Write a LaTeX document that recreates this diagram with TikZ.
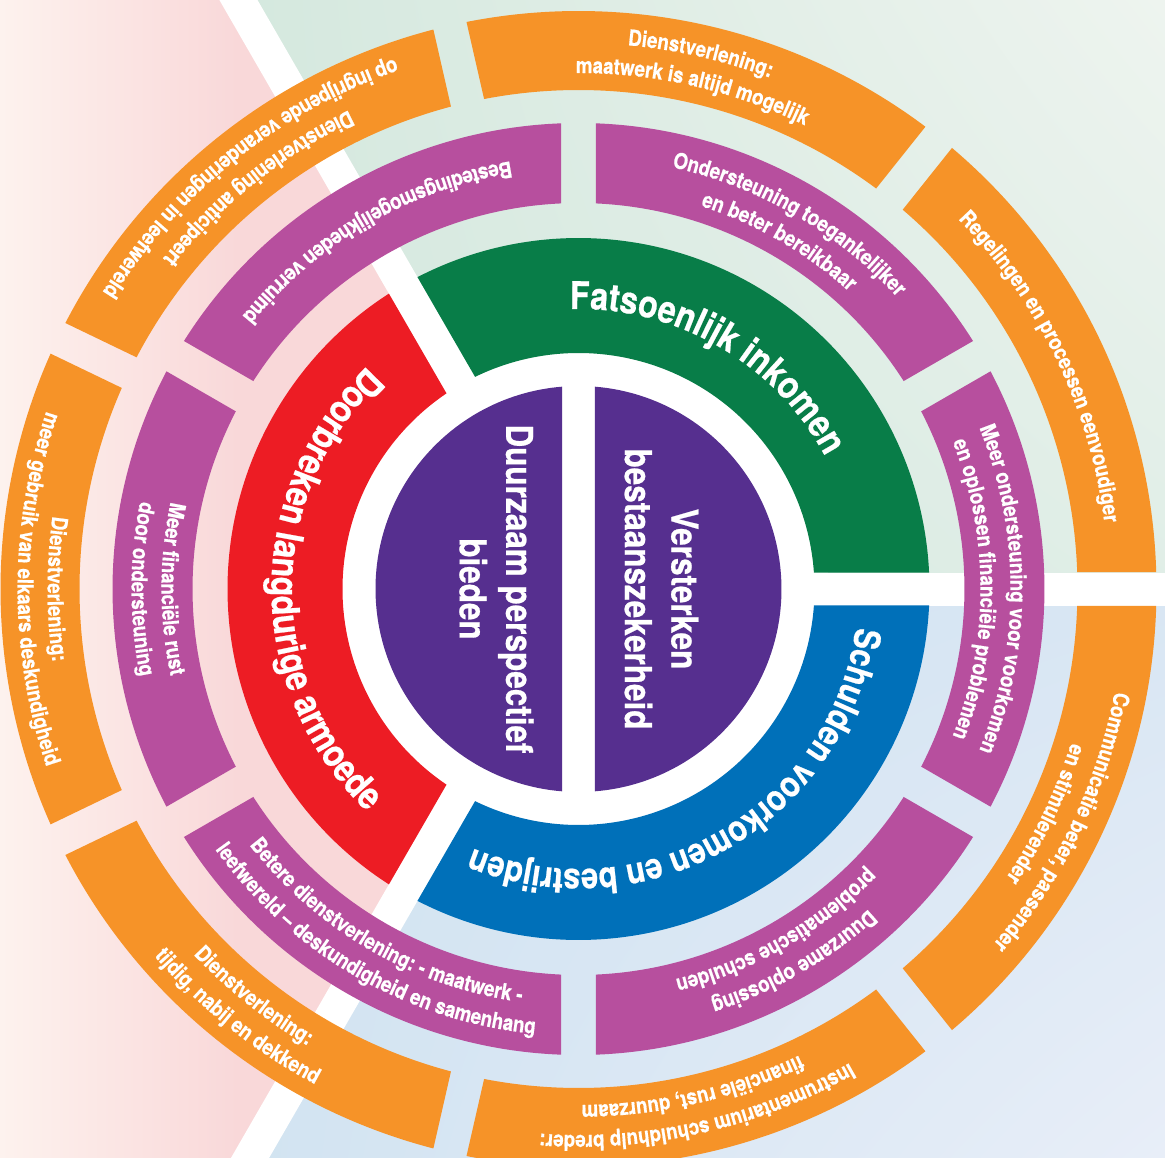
\documentclass[tikz,border=0pt]{standalone}
\usepackage{fontspec}
\setmainfont{TeX Gyre Heros}[FakeStretch=0.85, BoldFeatures={FakeBold=0.6}]
\usepackage{tikz}
\usetikzlibrary{decorations.text,shadings}

\definecolor{ringorange}{RGB}{246,147,40}
\definecolor{ringmagenta}{RGB}{183,79,158}
\definecolor{ringgreen}{RGB}{8,125,72}
\definecolor{ringblue}{RGB}{0,112,185}
\definecolor{ringred}{RGB}{237,28,36}
\definecolor{ringpurple}{RGB}{86,47,143}
\definecolor{bgpink}{RGB}{249,216,217}
\definecolor{bgpinkfade}{RGB}{253,242,238}
\definecolor{bggreen}{RGB}{212,232,222}
\definecolor{bggreenmid}{RGB}{224,238,231}
\definecolor{bggreenfade}{RGB}{238,244,239}
\definecolor{bgblue}{RGB}{209,227,241}
\definecolor{bgbluemid}{RGB}{216,230,243}
\definecolor{bgbluefade}{RGB}{232,238,248}

\newcommand\ringseg[6]{%
  \pgfmathsetmacro\segdo{asin(#6/#3)}%
  \pgfmathsetmacro\segdi{asin(#6/#2)}%
  \fill[#1] ({#4+\segdo}:#3) arc[start angle={#4+\segdo}, end angle={#5-\segdo}, radius=#3]
    -- ({#5-\segdi}:#2) arc[start angle={#5-\segdi}, end angle={#4+\segdi}, radius=#2] -- cycle;}

\newcommand\arclabel[5]{%
  \path[decorate, decoration={text along path, text align=center,
    text={|\fontsize{#1}{#1}\selectfont\bfseries\color{white}|#5}}]
    (#3:#2) arc[start angle=#3, end angle=#4, radius=#2];}

\begin{document}
\begin{tikzpicture}[x=1pt,y=1pt,
  corelabel/.style={rotate=-90, align=center, inner sep=0pt, text=white,
    font=\fontsize{37}{46.5}\selectfont\bfseries}]
\useasboundingbox (-578.5,-568) rectangle (586.5,589);
\clip (-578.5,-568) rectangle (586.5,589);

\fill[bgpink] (0,0) -- (120:1200) -- (240:1200) -- cycle;
\shade[left color=bgpinkfade, right color=bgpink] (-578.5,-568) rectangle (-340,589);
\begin{scope}
\clip (0,0) -- (0:1200) -- (60:1400) -- (120:1200) -- cycle;
\shade[upper left=bggreen, lower left=bggreen, lower right=bggreenmid, upper right=bggreenfade]
  (-360,0) rectangle (586.5,589);
\end{scope}
\begin{scope}
\clip (0,0) -- (0:1200) -- (-60:1400) -- (-120:1200) -- cycle;
\shade[upper left=bgblue, lower left=bgblue, upper right=bgbluemid, lower right=bgbluefade]
  (-360,-568) rectangle (586.5,0);
\end{scope}

\foreach \a in {0,120,240}
  \draw[white, line width=33pt] (0,0) -- (\a:1000);
\fill[white] (0,0) circle (250);

\ringseg{ringgreen}{236}{351}{0}{120}{16.5}
\ringseg{ringred}{236}{351}{120}{240}{16.5}
\ringseg{ringblue}{236}{351}{240}{360}{16.5}
\foreach \a in {30,90,...,330}
  {\ringseg{ringmagenta}{386}{466}{\a}{\a+60}{17.5}}
\foreach \i in {0,...,6}
  {\ringseg{ringorange}{499}{578}{\i*360/7}{(\i+1)*360/7}{17}}

\fill[ringpurple] (94.66:203) arc[start angle=94.66, end angle=265.34, radius=203] -- cycle;
\fill[ringpurple] (-85.34:203) arc[start angle=-85.34, end angle=85.34, radius=203] -- cycle;
\node[corelabel] (duurzaam) at (-82,0) {Duurzaam perspectief\\bieden};
\node[corelabel] (versterken) at (83,0) {Versterken\\bestaanszekerheid};

\arclabel{38}{280}{118}{2}{Fatsoenlijk inkomen}
\arclabel{38}{307}{122}{238}{Doorbreken langdurige armoede}
\arclabel{36}{280}{-2}{-118}{Schulden voorkomen en bestrijden}

\arclabel{22}{432}{88}{32}{Ondersteuning toegankelijker}
\arclabel{22}{402}{88}{32}{en beter bereikbaar}
\arclabel{22}{433}{92}{148}{Bestedingsmogelijkheden verruimd}
\arclabel{22}{417}{152}{208}{Meer financiële rust}
\arclabel{22}{447}{152}{208}{door ondersteuning}
\arclabel{22}{417}{212}{268}{Betere dienstverlening: - maatwerk -}
\arclabel{22}{447}{212}{268}{leefwereld – deskundigheid en samenhang}
\arclabel{22}{432}{-32}{-88}{Duurzame oplossing}
\arclabel{22}{402}{-32}{-88}{problematische schulden}
\arclabel{22}{432}{28}{-28}{Meer ondersteuning voor voorkomen}
\arclabel{22}{402}{28}{-28}{en oplossen financiële problemen}

\arclabel{22}{530}{49.43}{2}{Regelingen en processen eenvoudiger}
\arclabel{22}{546}{100.86}{53.43}{Dienstverlening:}
\arclabel{22}{516}{100.86}{53.43}{maatwerk is altijd mogelijk}
\arclabel{22}{531}{104.86}{152.29}{Dienstverlening anticipeert}
\arclabel{22}{561}{104.86}{152.29}{op ingrijpende veranderingen in leefwereld}
\arclabel{22}{531}{156.29}{203.71}{Dienstverlening:}
\arclabel{22}{561}{156.29}{203.71}{meer gebruik van elkaars deskundigheid}
\arclabel{22}{531}{207.71}{255.14}{Dienstverlening:}
\arclabel{22}{561}{207.71}{255.14}{tijdig, nabij en dekkend}
\arclabel{22}{546}{-53.43}{-100.86}{Instrumentarium schuldhulp breder:}
\arclabel{22}{516}{-53.43}{-100.86}{financiële rust, duurzaam}
\arclabel{22}{546}{-2}{-49.43}{Communicatie beter, passender}
\arclabel{22}{516}{-2}{-49.43}{en stimulerender}
\end{tikzpicture}
\end{document}
